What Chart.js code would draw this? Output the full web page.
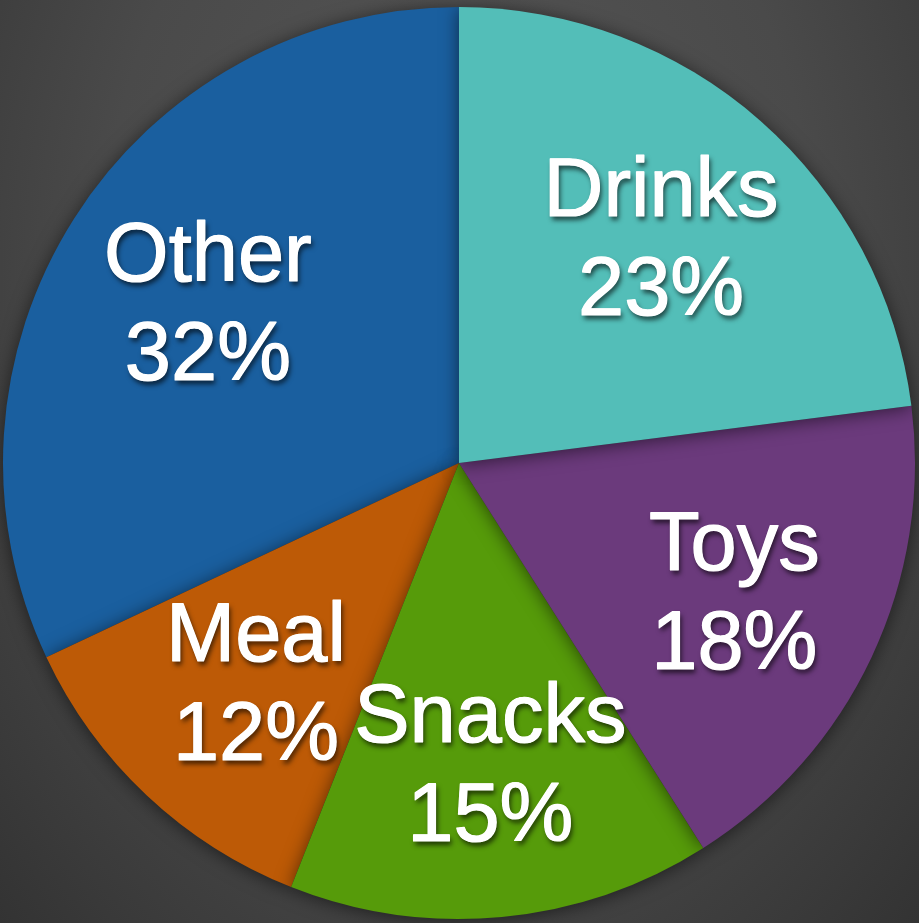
<!DOCTYPE html>
<html>
<head>
<meta charset="utf-8">
<script src="https://cdn.jsdelivr.net/npm/chart.js@4/dist/chart.umd.min.js"></script>
<style>
  html, body { margin: 0; padding: 0; }
  body {
    width: 919px; height: 923px; overflow: hidden;
    background: radial-gradient(ellipse at 50% 30%, #575757 0%, #4a4a4a 55%, #333333 100%);
  }
  canvas { display: block; }
</style>
</head>
<body>
<canvas id="pie" width="919" height="923"></canvas>
<script>
// Spending split by category, in percent
const categories = ['Drinks', 'Toys', 'Snacks', 'Meal', 'Other'];
const shares = [23, 18, 15, 12, 32];
const sliceColors = ['#53BEB8', '#6B3A7C', '#569B0A', '#BD5A06', '#1A5F9F'];

// Draw the slices last-to-first so each slice's drop shadow falls on its neighbours
const layeredSlices = {
  id: 'layeredSlices',
  beforeDatasetDraw(chart, args) {
    const ctx = chart.ctx;
    const arcs = args.meta.data;
    ctx.save();
    ctx.shadowColor = 'rgba(0,0,0,0.55)';
    ctx.shadowBlur = 18;
    ctx.shadowOffsetX = 0;
    ctx.shadowOffsetY = 2;
    for (let i = arcs.length - 1; i >= 0; i--) {
      arcs[i].draw(ctx);
    }
    ctx.restore();
    return false;
  }
};

// Two-line label (name and percentage) inside every slice
const sliceLabels = {
  id: 'sliceLabels',
  afterDatasetsDraw(chart) {
    const ctx = chart.ctx;
    const arcs = chart.getDatasetMeta(0).data;
    const placed = [];
    arcs.forEach((arc, i) => {
      const p = arc.getProps(['x', 'y', 'startAngle', 'endAngle', 'outerRadius'], true);
      const mid = (p.startAngle + p.endAngle) / 2;
      const r = p.outerRadius * 0.66;
      const cx = p.x + Math.cos(mid) * r + 3;
      const cy = p.y + Math.sin(mid) * r + 5;
      placed.push([categories[i], cx, cy - 49]);
      placed.push([shares[i] + '%', cx, cy + 50]);
    });
    ctx.save();
    ctx.font = '83px "Liberation Sans", Arial, Helvetica, sans-serif';
    ctx.fillStyle = '#ffffff';
    ctx.strokeStyle = '#ffffff';
    ctx.lineWidth = 1.2;
    ctx.lineJoin = 'round';
    ctx.textAlign = 'center';
    ctx.textBaseline = 'middle';
    // shadowed fill first
    ctx.shadowColor = 'rgba(0,0,0,0.65)';
    ctx.shadowBlur = 5;
    ctx.shadowOffsetX = 2;
    ctx.shadowOffsetY = 4;
    placed.forEach(([t, x, y]) => ctx.fillText(t, x, y));
    // then a clean fill and light stroke on top for weight
    ctx.shadowColor = 'rgba(0,0,0,0)';
    ctx.shadowBlur = 0;
    ctx.shadowOffsetX = 0;
    ctx.shadowOffsetY = 0;
    placed.forEach(([t, x, y]) => { ctx.fillText(t, x, y); ctx.strokeText(t, x, y); });
    ctx.restore();
  }
};

new Chart(document.getElementById('pie'), {
  type: 'pie',
  data: {
    labels: categories,
    datasets: [{
      data: shares,
      backgroundColor: sliceColors,
      borderWidth: 0
    }]
  },
  options: {
    responsive: false,
    animation: false,
    layout: { padding: { top: 7, left: 3, right: 4, bottom: 4 } },
    plugins: {
      legend: { display: false },
      tooltip: { enabled: false }
    }
  },
  plugins: [layeredSlices, sliceLabels]
});
</script>
</body>
</html>
